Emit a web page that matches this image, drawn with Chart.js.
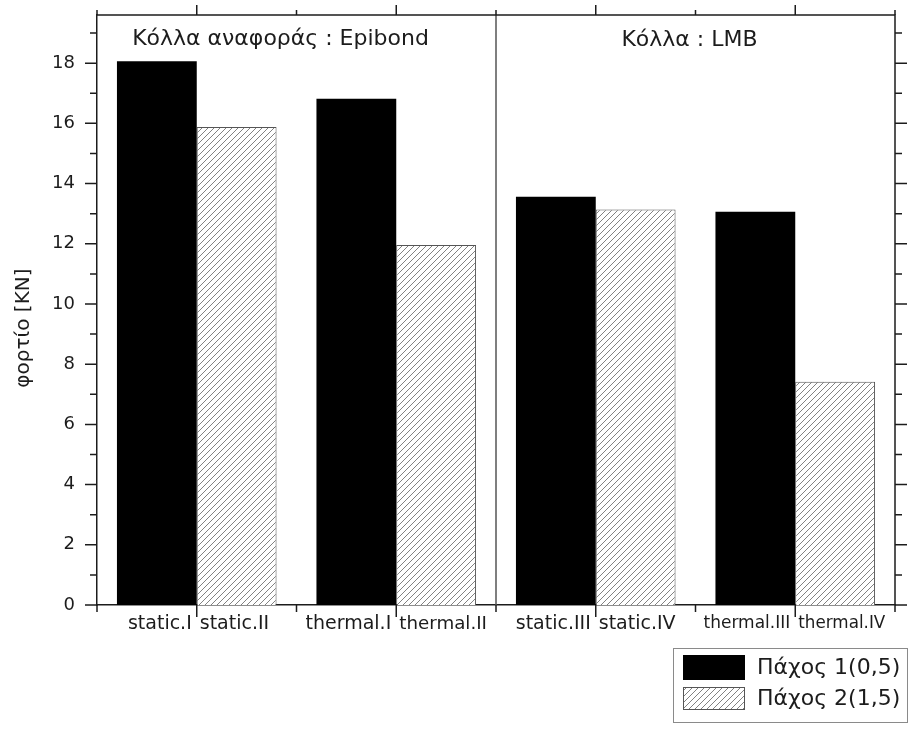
<!DOCTYPE html>
<html>
<head>
<meta charset="utf-8">
<script src="https://cdn.jsdelivr.net/npm/chart.js@4/dist/chart.umd.min.js"></script>
<style>
    html, body { margin: 0; padding: 0; background: #fff; }
    #wrap { width: 912px; height: 731px; }
</style>
</head>
<body>
<div id="wrap"><canvas id="chart"></canvas></div>
<script>
    /* Load at failure per specimen, two adhesive thicknesses */
    const labelsThin = ['static.I', 'thermal.I', 'static.III', 'thermal.III'];
    const labelsThick = ['static.II', 'thermal.II', 'static.IV', 'thermal.IV'];
    const loadThin = [18.06, 16.82, 13.56, 13.06];
    const loadThick = [15.88, 11.96, 13.14, 7.42];
    const seriesNames = ['Πάχος 1(0,5)', 'Πάχος 2(1,5)'];
    const panelTitles = ['Κόλλα αναφοράς : Epibond', 'Κόλλα : LMB'];
    const yTitle = 'φορτίο [KN]';
    const yTicks = [0, 2, 4, 6, 8, 10, 12, 14, 16, 18];
    const yMinor = [1, 3, 5, 7, 9, 11, 13, 15, 17, 19];

    const FONT = 'DejaVu Sans';
    const INK = '#1c1c1c';

    // Diagonal "////" hatch used for the second series
    function makeHatch() {
        const c = document.createElement('canvas');
        c.width = 6;
        c.height = 6;
        const g = c.getContext('2d');
        g.fillStyle = '#ffffff';
        g.fillRect(0, 0, 6, 6);
        g.strokeStyle = '#828282';
        g.lineWidth = 1;
        g.beginPath();
        g.moveTo(0, 6); g.lineTo(6, 0);
        g.moveTo(-1, 1); g.lineTo(1, -1);
        g.moveTo(5, 7); g.lineTo(7, 5);
        g.stroke();
        return g.createPattern(c, 'repeat');
    }
    const hatch = makeHatch();

    // shrink a label's font until it fits in the given width
    function fitFont(ctx, text, size, maxWidth) {
        let s = size;
        ctx.font = s + 'px "' + FONT + '"';
        while (ctx.measureText(text).width > maxWidth && s > 10) {
            s -= 0.25;
            ctx.font = s + 'px "' + FONT + '"';
        }
    }

    // Box frame, outward ticks, bar labels, panel titles and legend
    const framePlugin = {
        id: 'frame',
        afterDraw(chart) {
            const { ctx, chartArea: a, scales: { x, y } } = chart;
            ctx.save();

            // divider between the two adhesives
            ctx.strokeStyle = '#555';
            ctx.lineWidth = 1.5;
            ctx.beginPath();
            ctx.moveTo(x.getPixelForValue(2), a.top);
            ctx.lineTo(x.getPixelForValue(2), a.bottom);
            ctx.stroke();

            // top and right frame lines
            ctx.strokeStyle = INK;
            ctx.beginPath();
            ctx.moveTo(a.left, a.top);
            ctx.lineTo(a.right, a.top);
            ctx.lineTo(a.right, a.bottom);
            ctx.stroke();

            ctx.beginPath();
            const tick = (x0, y0, x1, y1) => { ctx.moveTo(x0, y0); ctx.lineTo(x1, y1); };
            yTicks.forEach((v) => {
                const py = y.getPixelForValue(v);
                tick(a.left - 12, py, a.left, py);
                tick(a.right, py, a.right + 12, py);
            });
            yMinor.forEach((v) => {
                const py = y.getPixelForValue(v);
                tick(a.left - 7, py, a.left, py);
                tick(a.right, py, a.right + 7, py);
            });
            for (let i = 0; i <= 4; i++) {
                const px = x.getPixelForValue(i);
                tick(px, a.bottom, px, a.bottom + 7);
                tick(px, a.top - 5, px, a.top);
                if (i < 4) {
                    const pm = x.getPixelForValue(i + 0.5);
                    tick(pm, a.bottom, pm, a.bottom + 12);
                    tick(pm, a.top - 10, pm, a.top);
                }
            }
            ctx.stroke();

            // per-bar labels, pushed to either side of the shared tick
            ctx.fillStyle = INK;
            ctx.textBaseline = 'middle';
            chart.getDatasetMeta(0).data.forEach((bar, i) => {
                fitFont(ctx, labelsThin[i], 19, 88);
                ctx.textAlign = 'right';
                ctx.fillText(labelsThin[i], bar.x + bar.width / 2 - 5, a.bottom + 19);
            });
            chart.getDatasetMeta(1).data.forEach((bar, i) => {
                fitFont(ctx, labelsThick[i], 19, 88);
                ctx.textAlign = 'left';
                ctx.fillText(labelsThick[i], bar.x - bar.width / 2 + 3, a.bottom + 19);
            });

            // panel titles
            ctx.textAlign = 'center';
            ctx.font = '22px "' + FONT + '"';
            ctx.textBaseline = 'alphabetic';
            ctx.fillText(panelTitles[0], x.getPixelForValue(0.92), a.top + 30);
            ctx.fillText(panelTitles[1], x.getPixelForValue(2.97), a.top + 31);

            // y axis title
            ctx.save();
            ctx.translate(24, y.getPixelForValue(9.2));
            ctx.rotate(-Math.PI / 2);
            ctx.textBaseline = 'middle';
            ctx.font = '20px "' + FONT + '"';
            ctx.fillText(yTitle, 0, 0);
            ctx.restore();

            // legend box
            const lx = 673, ly = 648;
            ctx.strokeStyle = '#8a8a8a';
            ctx.lineWidth = 1;
            ctx.strokeRect(lx + 0.5, ly + 0.5, 234, 74);
            ctx.fillStyle = '#000';
            ctx.fillRect(lx + 10, ly + 7, 62, 25);
            ctx.fillStyle = hatch;
            ctx.fillRect(lx + 10, ly + 39, 62, 23);
            ctx.strokeStyle = '#555';
            ctx.strokeRect(lx + 10.5, ly + 39.5, 61, 22);
            ctx.fillStyle = INK;
            ctx.textAlign = 'left';
            ctx.textBaseline = 'middle';
            ctx.font = '22px "' + FONT + '"';
            ctx.fillText(seriesNames[0], lx + 84, ly + 20);
            ctx.fillText(seriesNames[1], lx + 84, ly + 51);

            ctx.restore();
        },
    };

    new Chart(document.getElementById('chart'), {
        type: 'bar',
        data: {
            datasets: [
                {
                    label: seriesNames[0],
                    data: loadThin.map((v, i) => ({ x: i + 0.5, y: v })),
                    backgroundColor: '#000000',
                    borderWidth: 0,
                },
                {
                    label: seriesNames[1],
                    data: loadThick.map((v, i) => ({ x: i + 0.5, y: v })),
                    backgroundColor: hatch,
                    borderColor: '#555555',
                    borderWidth: 1,
                },
            ],
        },
        options: {
            responsive: true,
            maintainAspectRatio: false,
            animation: false,
            layout: {
                padding: { top: 15, right: 17, left: 0, bottom: 0 },
            },
            datasets: {
                bar: {
                    barPercentage: 1,
                    categoryPercentage: 0.8,
                },
            },
            plugins: {
                legend: { display: false },
                tooltip: { enabled: false },
            },
            scales: {
                x: {
                    type: 'linear',
                    min: 0,
                    max: 4,
                    offset: false,
                    grid: { display: false, drawTicks: false, offset: false },
                    ticks: { display: false, stepSize: 1 },
                    border: { color: INK, width: 1.5 },
                    afterFit: (s) => { s.height = 126; },
                },
                y: {
                    min: 0,
                    max: 19.6,
                    afterBuildTicks: (s) => { s.ticks = yTicks.map((v) => ({ value: v })); },
                    grid: { display: false, drawTicks: false },
                    border: { color: INK, width: 1.5 },
                    ticks: {
                        padding: 22,
                        color: INK,
                        font: { family: FONT, size: 18 },
                    },
                    afterFit: (s) => {
                        s.width = 97;
                        s.paddingTop = 0;
                        s.paddingBottom = 0;
                    },
                },
            },
        },
        plugins: [framePlugin],
    });
</script>
</body>
</html>
